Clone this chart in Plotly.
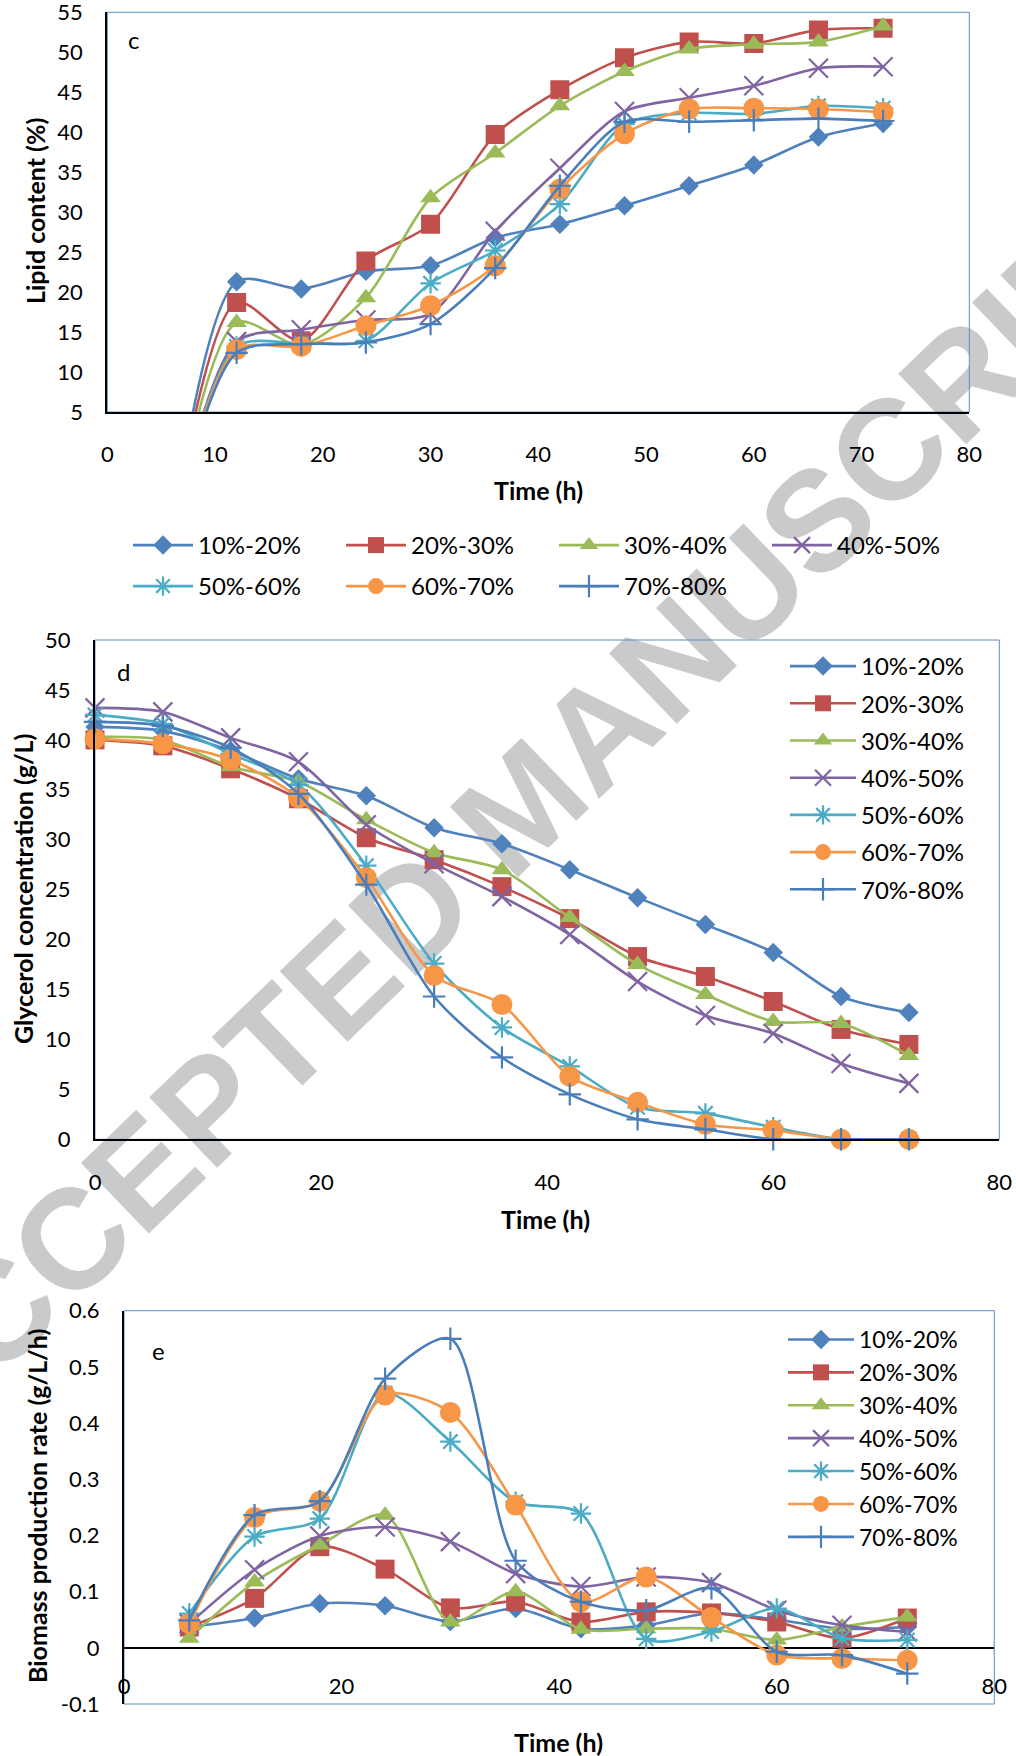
import math
import plotly.graph_objects as go

W, H = 1016, 1756

# ---------------- data ----------------
series_names = ["10%-20%", "20%-30%", "30%-40%", "40%-50%", "50%-60%", "60%-70%", "70%-80%"]

time_c = [6, 12, 18, 24, 30, 36, 42, 48, 54, 60, 66, 72]
lipid_10_20 = [-10, 21.3, 20.4, 22.6, 23.3, 26.8, 28.5, 30.8, 33.3, 35.9, 39.4, 41.1]
lipid_20_30 = [-10, 18.7, 13.9, 23.9, 28.5, 39.7, 45.3, 49.3, 51.3, 51.1, 52.8, 53.0]
lipid_30_40 = [-10, 16.2, 13.4, 19.3, 31.8, 37.4, 43.3, 47.6, 50.4, 51.0, 51.3, 53.3]
lipid_40_50 = [-10, 13.8, 15.3, 16.5, 17.3, 27.6, 35.5, 42.6, 44.3, 45.8, 48.0, 48.2]
lipid_50_60 = [-10, 13.2, 13.6, 13.9, 21.1, 25.2, 31.0, 41.0, 42.4, 42.3, 43.3, 43.0]
lipid_60_70 = [-10, 12.8, 13.2, 15.8, 18.3, 23.3, 32.9, 39.8, 42.9, 43.0, 42.9, 42.5]
lipid_70_80 = [-10, 12.4, 13.5, 13.7, 16.0, 23.0, 33.3, 41.3, 41.3, 41.5, 41.7, 41.4]

time_d = [0, 6, 12, 18, 24, 30, 36, 42, 48, 54, 60, 66, 72]
glyc_10_20 = [41.3, 40.9, 38.9, 36.1, 34.4, 31.2, 29.6, 27.0, 24.2, 21.5, 18.7, 14.3, 12.7]
glyc_20_30 = [40.0, 39.4, 37.1, 34.1, 30.2, 28.0, 25.3, 22.1, 18.3, 16.3, 13.8, 11.0, 9.5]
glyc_30_40 = [40.3, 40.0, 37.3, 35.8, 32.0, 28.7, 27.0, 22.2, 17.5, 14.5, 11.8, 11.6, 8.4]
glyc_40_50 = [43.2, 42.8, 40.2, 37.8, 31.5, 27.6, 24.3, 20.5, 15.8, 12.4, 10.6, 7.6, 5.6]
glyc_50_60 = [42.5, 41.6, 38.6, 35.5, 27.4, 17.6, 11.2, 7.3, 3.2, 2.6, 1.2, 0, 0]
glyc_60_70 = [40.1, 39.6, 38.0, 34.2, 26.2, 16.4, 13.5, 6.3, 3.7, 1.5, 0.9, 0, 0]
glyc_70_80 = [41.8, 41.4, 39.2, 34.6, 25.5, 14.3, 8.2, 4.5, 2.0, 1.0, 0, 0, 0]

time_e = [6, 12, 18, 24, 30, 36, 42, 48, 54, 60, 66, 72]
rate_10_20 = [0.037, 0.053, 0.079, 0.075, 0.047, 0.070, 0.034, 0.040, 0.062, 0.050, 0.034, 0.037]
rate_20_30 = [0.037, 0.088, 0.180, 0.140, 0.071, 0.082, 0.046, 0.064, 0.062, 0.046, 0.017, 0.053]
rate_30_40 = [0.017, 0.117, 0.183, 0.236, 0.046, 0.100, 0.033, 0.034, 0.034, 0.014, 0.037, 0.055]
rate_40_50 = [0.043, 0.139, 0.199, 0.215, 0.189, 0.132, 0.109, 0.126, 0.116, 0.067, 0.040, 0.028]
rate_50_60 = [0.061, 0.198, 0.230, 0.453, 0.367, 0.260, 0.239, 0.016, 0.029, 0.070, 0.017, 0.014]
rate_60_70 = [0.043, 0.232, 0.261, 0.450, 0.419, 0.254, 0.082, 0.126, 0.054, -0.013, -0.019, -0.022]
rate_70_80 = [0.049, 0.236, 0.261, 0.479, 0.550, 0.155, 0.082, 0.067, 0.106, -0.007, -0.013, -0.046]

rate_tick_vals = [-0.1, 0, 0.1, 0.2, 0.3, 0.4, 0.5, 0.6]
rate_tick_text = ["-0.1", "0", "0.1", "0.2", "0.3", "0.4", "0.5", "0.6"]

lipid = [lipid_10_20, lipid_20_30, lipid_30_40, lipid_40_50, lipid_50_60, lipid_60_70, lipid_70_80]
glyc = [glyc_10_20, glyc_20_30, glyc_30_40, glyc_40_50, glyc_50_60, glyc_60_70, glyc_70_80]
rate = [rate_10_20, rate_20_30, rate_30_40, rate_40_50, rate_50_60, rate_60_70, rate_70_80]

# ---------------- styles ----------------
colors = ["#4F81BD", "#C0504D", "#9BBB59", "#8064A2", "#4BACC6", "#F79646", "#4A7EBB"]
symbols = ["diamond", "square", "triangle-up", "x-thin", "asterisk", "circle", "cross-thin"]
msizes = [15, 19, 18, 19, 17, 21, 16]
thin = {"x-thin", "asterisk", "cross-thin"}
FONT = "Lato"
BORDER = "#5B8CCB"


def fx(p):
    return p / W


def fy(p):
    return 1 - p / H


panels = [
    dict(t=time_c, data=lipid, xa="x", ya="y", leg=["legend"] * 4 + ["legend4"] * 3, clip=True, g="c"),
    dict(t=time_d, data=glyc, xa="x2", ya="y2", leg=["legend2"] * 7, clip=False, g="d"),
    dict(t=time_e, data=rate, xa="x3", ya="y3", leg=["legend3"] * 7, clip=False, g="e"),
]

fig = go.Figure()

# watermark (drawn underneath everything)
ang = math.radians(44)
cx, cy, half = 513, 795, 300
fig.add_shape(type="line", xref="paper", yref="paper", layer="below",
              x0=fx(cx - half * math.cos(ang)), y0=fy(cy + half * math.sin(ang)),
              x1=fx(cx + half * math.cos(ang)), y1=fy(cy - half * math.sin(ang)),
              line=dict(color="rgba(0,0,0,0)", width=1),
              label=dict(text="ACCEPTED MANUSCRIPT", textposition="middle",
                         xanchor="center", yanchor="middle", padding=0,
                         font=dict(family="Liberation Sans", size=142, weight="bold",
                                   color="#C9CACC")))

for p in panels:
    for i, name in enumerate(series_names):
        sym = symbols[i]
        fig.add_trace(go.Scatter(
            x=p["t"], y=p["data"][i], name=name, mode="lines+markers",
            xaxis=p["xa"], yaxis=p["ya"], legend=p["leg"][i],
            legendgroup=p["g"] + str(i),
            cliponaxis=p["clip"],
            line=dict(color=colors[i], width=2.6, shape="spline", smoothing=0.8),
            marker=dict(symbol=sym, size=msizes[i], color=colors[i],
                        line=dict(color=colors[i], width=2.2 if sym in thin else 0)),
        ))

tickfont = dict(family=FONT, size=22, color="black")
common_x = dict(showgrid=False, zeroline=False, showline=True, linecolor="black",
                linewidth=2, ticks="", tickfont=tickfont, ticklabelstandoff=22,
                ticklabeloverflow="allow")
common_y = dict(showgrid=False, zeroline=False, showline=True, linecolor="black",
                linewidth=2, ticks="", tickfont=tickfont, ticklabelstandoff=18,
                ticklabeloverflow="allow")

hleg = dict(orientation="h", xanchor="left", yanchor="top",
            entrywidth=138, entrywidthmode="pixels", itemwidth=60,
            tracegroupgap=0, font=dict(family=FONT, size=24), bgcolor="rgba(0,0,0,0)")

fig.update_layout(
    width=W, height=H, autosize=False,
    margin=dict(l=0, r=0, t=0, b=0, autoexpand=False),
    paper_bgcolor="white", plot_bgcolor="rgba(0,0,0,0)",
    font=dict(family=FONT, color="black"),
    xaxis=dict(common_x, domain=[fx(107.3), fx(969.3)], range=[0, 80], dtick=10, anchor="y"),
    yaxis=dict(common_y, domain=[fy(412), fy(12.3)], range=[5, 55], dtick=5, anchor="x"),
    xaxis2=dict(common_x, domain=[fx(95), fx(999.3)], range=[0, 80], dtick=20, anchor="y2"),
    yaxis2=dict(common_y, domain=[fy(1139.3), fy(640)], range=[0, 50], dtick=5, anchor="x2"),
    xaxis3=dict(common_x, domain=[fx(124), fx(994.3)], range=[0, 80], dtick=20,
                showline=False, anchor="free", position=fy(1648.5)),
    yaxis3=dict(common_y, domain=[fy(1704), fy(1310.7)], range=[-0.1, 0.6],
                tickvals=rate_tick_vals, ticktext=rate_tick_text, anchor="x3",
                zeroline=True, zerolinecolor="black", zerolinewidth=2),
    legend=dict(hleg, x=fx(128), y=fy(523)),
    legend4=dict(hleg, x=fx(128), y=fy(564)),
    legend2=dict(orientation="v", x=fx(785), y=fy(644), xanchor="left", yanchor="top",
                 itemwidth=66, tracegroupgap=3,
                 font=dict(family=FONT, size=24), bgcolor="rgba(0,0,0,0)"),
    legend3=dict(orientation="v", x=fx(783), y=fy(1318), xanchor="left", yanchor="top",
                 itemwidth=66, tracegroupgap=0,
                 font=dict(family=FONT, size=23), bgcolor="rgba(0,0,0,0)"),
    showlegend=True,
)

# plot-area borders
for xr, yr in [("x domain", "y domain"), ("x2 domain", "y2 domain"), ("x3 domain", "y3 domain")]:
    fig.add_shape(type="rect", xref=xr, yref=yr, x0=0, x1=1, y0=0, y1=1,
                  line=dict(color=BORDER, width=1), layer="below")

title_font = dict(family=FONT, size=25, color="black", weight="bold")
annots = [
    dict(text="Lipid content (%)", x=fx(35), y=fy(211), textangle=-90, font=title_font),
    dict(text="Time (h)", x=fx(538), y=fy(490), font=title_font),
    dict(text="Glycerol concentration (g/L)", x=fx(23), y=fy(889), textangle=-90, font=title_font),
    dict(text="Time (h)", x=fx(545), y=fy(1219), font=title_font),
    dict(text="Biomass production rate (g/L/h)", x=fx(37), y=fy(1506), textangle=-90, font=title_font),
    dict(text="Time (h)", x=fx(558), y=fy(1742), font=title_font),
    dict(text="c", x=fx(133), y=fy(40), font=dict(family=FONT, size=24, color="black")),
    dict(text="d", x=fx(123), y=fy(671), font=dict(family=FONT, size=24, color="black")),
    dict(text="e", x=fx(158), y=fy(1350), font=dict(family=FONT, size=24, color="black")),
]
for a in annots:
    fig.add_annotation(xref="paper", yref="paper", showarrow=False,
                       xanchor="center", yanchor="middle", **a)

fig.write_html("out.html")
